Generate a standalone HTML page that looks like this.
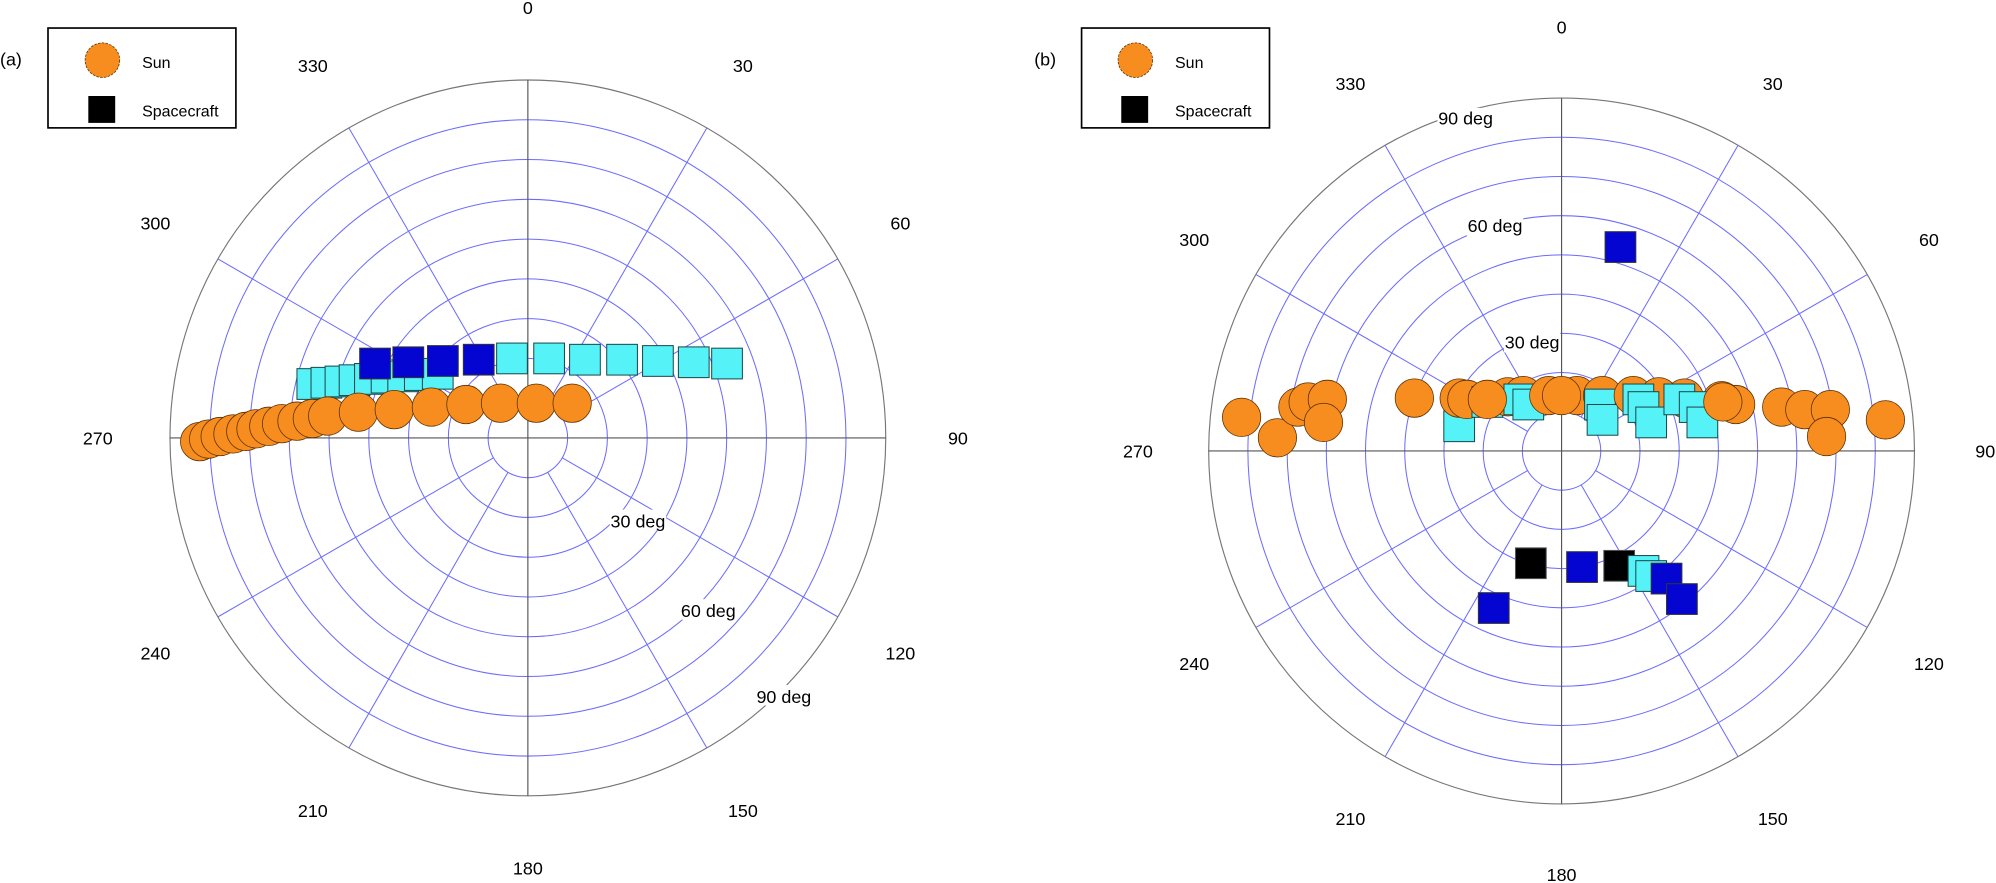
<!DOCTYPE html>
<html><head><meta charset="utf-8"><style>
html,body{margin:0;padding:0;background:#fff}
svg{display:block}
text{font-family:"Liberation Sans",Arial,sans-serif;fill:#000}
.ring{fill:none;stroke:#6b6bff;stroke-width:0.8}
.sp{stroke:#6b6bff;stroke-width:0.8}
.ax{stroke:#555;stroke-width:0.9}
.out{fill:none;stroke:#777;stroke-width:0.9}
.sun{fill:#f78c1f;stroke:#5a3000;stroke-width:0.6}
.cy{fill:#55f2f8;stroke:#1a4a4a;stroke-width:0.8}
.db{fill:#0505d2;stroke:#333;stroke-width:0.8}
.bk{fill:#000;stroke:#555;stroke-width:0.8}
.lab{font-size:14px}
</style></head><body>
<svg width="1996" height="883" viewBox="0 0 1559.4 689.8" preserveAspectRatio="none" xmlns="http://www.w3.org/2000/svg">
<rect width="1559.4" height="689.8" fill="#fff"/>

<!-- LEFT PLOT -->
<g transform="translate(412.4,342.1)">
  <circle class="ring" r="31.07"/><circle class="ring" r="62.13"/><circle class="ring" r="93.2"/>
  <circle class="ring" r="124.27"/><circle class="ring" r="155.33"/><circle class="ring" r="186.4"/>
  <circle class="ring" r="217.47"/><circle class="ring" r="248.53"/>
  <circle class="out" r="279.6"/>
  <g>
    <line class="sp" x1="0" y1="-31" x2="0" y2="-279.6" transform="rotate(30)"/>
    <line class="sp" x1="0" y1="-31" x2="0" y2="-279.6" transform="rotate(60)"/>
    <line class="sp" x1="0" y1="-31" x2="0" y2="-279.6" transform="rotate(120)"/>
    <line class="sp" x1="0" y1="-31" x2="0" y2="-279.6" transform="rotate(150)"/>
    <line class="sp" x1="0" y1="-31" x2="0" y2="-279.6" transform="rotate(210)"/>
    <line class="sp" x1="0" y1="-31" x2="0" y2="-279.6" transform="rotate(240)"/>
    <line class="sp" x1="0" y1="-31" x2="0" y2="-279.6" transform="rotate(300)"/>
    <line class="sp" x1="0" y1="-31" x2="0" y2="-279.6" transform="rotate(330)"/>
  </g>
  <line class="ax" x1="0" y1="-279.6" x2="0" y2="279.6"/>
  <line class="ax" x1="-279.6" y1="0" x2="279.6" y2="0"/>
  <g class="lab" text-anchor="middle">
    <text x="0" y="-331">0</text>
    <text x="168" y="-286">30</text>
    <text x="291" y="-163">60</text>
    <text x="336" y="5">90</text>
    <text x="291" y="173">120</text>
    <text x="168" y="296">150</text>
    <text x="0" y="341">180</text>
    <text x="-168" y="296">210</text>
    <text x="-291" y="173">240</text>
    <text x="-336" y="5">270</text>
    <text x="-291" y="-163">300</text>
    <text x="-168" y="-286">330</text>
  </g>
  <g class="lab" text-anchor="middle">
    <rect x="64" y="56" width="44" height="16" fill="#fff"/><text x="86" y="70">30 deg</text>
    <rect x="119" y="126" width="44" height="16" fill="#fff"/><text x="141" y="140">60 deg</text>
    <rect x="178" y="193" width="44" height="16" fill="#fff"/><text x="200" y="207">90 deg</text>
  </g>
</g>
<!-- left data -->
<g>
  <rect class="cy" x="232" y="288" width="24" height="24"/>
  <rect class="cy" x="243" y="287" width="24" height="24"/>
  <rect class="cy" x="254" y="286" width="24" height="24"/>
  <rect class="cy" x="265" y="285" width="24" height="24"/>
  <rect class="cy" x="277" y="284" width="24" height="24"/>
  <rect class="cy" x="290" y="283" width="24" height="24"/>
  <rect class="cy" x="303" y="282" width="24" height="24"/>
  <rect class="cy" x="316" y="281" width="24" height="24"/>
  <rect class="cy" x="330" y="280" width="24" height="24"/>
  <rect class="db" x="281" y="272" width="24" height="24"/>
  <rect class="db" x="307" y="271" width="24" height="24"/>
  <rect class="db" x="334" y="270" width="24" height="24"/>
  <rect class="db" x="362" y="269" width="24" height="24"/>
  <rect class="cy" x="388" y="268" width="24" height="24"/>
  <rect class="cy" x="417" y="268" width="24" height="24"/>
  <rect class="cy" x="445" y="269" width="24" height="24"/>
  <rect class="cy" x="474" y="269" width="24" height="24"/>
  <rect class="cy" x="502" y="270" width="24" height="24"/>
  <rect class="cy" x="530" y="271" width="24" height="24"/>
  <rect class="cy" x="556" y="272" width="24" height="24"/>
  <circle class="sun" cx="156" cy="345" r="15"/>
  <circle class="sun" cx="163" cy="343" r="15"/>
  <circle class="sun" cx="172" cy="341" r="15"/>
  <circle class="sun" cx="182" cy="339" r="15"/>
  <circle class="sun" cx="192" cy="337" r="15"/>
  <circle class="sun" cx="200" cy="335" r="15"/>
  <circle class="sun" cx="210" cy="333" r="15"/>
  <circle class="sun" cx="220" cy="331" r="15"/>
  <circle class="sun" cx="232" cy="329" r="15"/>
  <circle class="sun" cx="244" cy="327" r="15"/>
  <circle class="sun" cx="256" cy="325" r="15"/>
  <circle class="sun" cx="280" cy="322" r="15"/>
  <circle class="sun" cx="308" cy="320" r="15"/>
  <circle class="sun" cx="337" cy="318" r="15"/>
  <circle class="sun" cx="364" cy="316" r="15"/>
  <circle class="sun" cx="391" cy="315" r="15"/>
  <circle class="sun" cx="419" cy="315" r="15"/>
  <circle class="sun" cx="447" cy="315" r="15"/>
</g>

<!-- RIGHT PLOT -->
<g transform="translate(1220,352.3)">
  <circle class="ring" r="30.63"/><circle class="ring" r="61.27"/><circle class="ring" r="91.9"/>
  <circle class="ring" r="122.53"/><circle class="ring" r="153.17"/><circle class="ring" r="183.8"/>
  <circle class="ring" r="214.43"/><circle class="ring" r="245.07"/>
  <circle class="out" r="275.7"/>
  <g>
    <line class="sp" x1="0" y1="-30.6" x2="0" y2="-275.7" transform="rotate(30)"/>
    <line class="sp" x1="0" y1="-30.6" x2="0" y2="-275.7" transform="rotate(60)"/>
    <line class="sp" x1="0" y1="-30.6" x2="0" y2="-275.7" transform="rotate(120)"/>
    <line class="sp" x1="0" y1="-30.6" x2="0" y2="-275.7" transform="rotate(150)"/>
    <line class="sp" x1="0" y1="-30.6" x2="0" y2="-275.7" transform="rotate(210)"/>
    <line class="sp" x1="0" y1="-30.6" x2="0" y2="-275.7" transform="rotate(240)"/>
    <line class="sp" x1="0" y1="-30.6" x2="0" y2="-275.7" transform="rotate(300)"/>
    <line class="sp" x1="0" y1="-30.6" x2="0" y2="-275.7" transform="rotate(330)"/>
  </g>
  <line class="ax" x1="0" y1="-275.7" x2="0" y2="275.7"/>
  <line class="ax" x1="-275.7" y1="0" x2="275.7" y2="0"/>
  <g class="lab" text-anchor="middle">
    <text x="0" y="-326">0</text>
    <text x="165" y="-282">30</text>
    <text x="287" y="-160">60</text>
    <text x="331" y="5">90</text>
    <text x="287" y="171">120</text>
    <text x="165" y="292">150</text>
    <text x="0" y="336">180</text>
    <text x="-165" y="292">210</text>
    <text x="-287" y="171">240</text>
    <text x="-331" y="5">270</text>
    <text x="-287" y="-160">300</text>
    <text x="-165" y="-282">330</text>
  </g>
  <g class="lab" text-anchor="middle">
    <rect x="-97" y="-268" width="44" height="16" fill="#fff"/><text x="-75" y="-255">90 deg</text>
    <rect x="-74" y="-184" width="44" height="16" fill="#fff"/><text x="-52" y="-171">60 deg</text>
    <rect x="-45" y="-93" width="44" height="16" fill="#fff"/><text x="-23" y="-80">30 deg</text>
  </g>
</g>
<!-- right data -->
<g>
  <rect class="db" x="1254" y="181" width="24" height="24"/>
  <circle class="sun" cx="970" cy="326" r="15"/>
  <circle class="sun" cx="998" cy="342" r="15"/>
  <circle class="sun" cx="1014" cy="318" r="15"/>
  <circle class="sun" cx="1022" cy="314" r="15"/>
  <circle class="sun" cx="1037" cy="312" r="15"/>
  <circle class="sun" cx="1034" cy="330" r="15"/>
  <circle class="sun" cx="1105" cy="311" r="15"/>
  <rect class="cy" x="1128" y="321" width="24" height="24"/>
  <circle class="sun" cx="1140" cy="311" r="15"/>
  <circle class="sun" cx="1146" cy="312" r="15"/>
  <rect class="cy" x="1150" y="302" width="24" height="24"/>
  <circle class="sun" cx="1178" cy="310" r="15"/>
  <circle class="sun" cx="1190" cy="309" r="15"/>
  <rect class="cy" x="1175" y="300" width="24" height="24"/>
  <rect class="cy" x="1182" y="304" width="24" height="24"/>
  <circle class="sun" cx="1210" cy="309" r="15"/>
  <circle class="sun" cx="1232" cy="309" r="15"/>
  <circle class="sun" cx="1252" cy="309" r="15"/>
  <rect class="cy" x="1238" y="304" width="24" height="24"/>
  <rect class="cy" x="1240" y="316" width="24" height="24"/>
  <circle class="sun" cx="1276" cy="309" r="15"/>
  <circle class="sun" cx="1296" cy="310" r="15"/>
  <circle class="sun" cx="1316" cy="311" r="15"/>
  <rect class="cy" x="1268" y="300" width="24" height="24"/>
  <rect class="cy" x="1272" y="306" width="24" height="24"/>
  <rect class="cy" x="1278" y="318" width="24" height="24"/>
  <circle class="sun" cx="1345" cy="313" r="15"/>
  <circle class="sun" cx="1356" cy="316" r="15"/>
  <rect class="cy" x="1300" y="300" width="24" height="24"/>
  <rect class="cy" x="1312" y="306" width="24" height="24"/>
  <rect class="cy" x="1318" y="318" width="24" height="24"/>
  <circle class="sun" cx="1392" cy="318" r="15"/>
  <circle class="sun" cx="1410" cy="320" r="15"/>
  <circle class="sun" cx="1430" cy="320" r="15"/>
  <circle class="sun" cx="1427" cy="341" r="15"/>
  <circle class="sun" cx="1473" cy="328" r="15"/>
  <circle class="sun" cx="1220" cy="309" r="15"/>
  <circle class="sun" cx="1162" cy="312" r="15"/>
  <circle class="sun" cx="1346" cy="314" r="15"/>
  <rect class="bk" x="1184" y="428" width="24" height="24"/>
  <rect class="db" x="1224" y="431" width="24" height="24"/>
  <rect class="bk" x="1253" y="430" width="24" height="24"/>
  <rect class="cy" x="1272" y="434" width="24" height="24"/>
  <rect class="cy" x="1278" y="438" width="24" height="24"/>
  <rect class="db" x="1290" y="440" width="24" height="24"/>
  <rect class="db" x="1302" y="456" width="24" height="24"/>
  <rect class="db" x="1155" y="463" width="24" height="24"/>
</g>

<!-- legends -->
<text x="0" y="51" class="lab">(a)</text>
<rect x="37.5" y="21.9" width="146.8" height="78" fill="#fff" stroke="#000" stroke-width="1.3"/>
<circle cx="80" cy="47" r="13.5" fill="#f78c1f" stroke="#5a3000" stroke-width="0.6" stroke-dasharray="2,1"/>
<text x="111" y="53" font-size="12.5">Sun</text>
<rect x="69" y="75" width="21" height="21" fill="#000"/>
<text x="111" y="91" font-size="12.5">Spacecraft</text>

<text x="808" y="51" class="lab">(b)</text>
<rect x="845" y="21.9" width="146.8" height="78" fill="#fff" stroke="#000" stroke-width="1.3"/>
<circle cx="887" cy="47" r="13.5" fill="#f78c1f" stroke="#5a3000" stroke-width="0.6" stroke-dasharray="2,1"/>
<text x="918" y="53" font-size="12.5">Sun</text>
<rect x="876" y="75" width="21" height="21" fill="#000"/>
<text x="918" y="91" font-size="12.5">Spacecraft</text>
</svg>
</body></html>
